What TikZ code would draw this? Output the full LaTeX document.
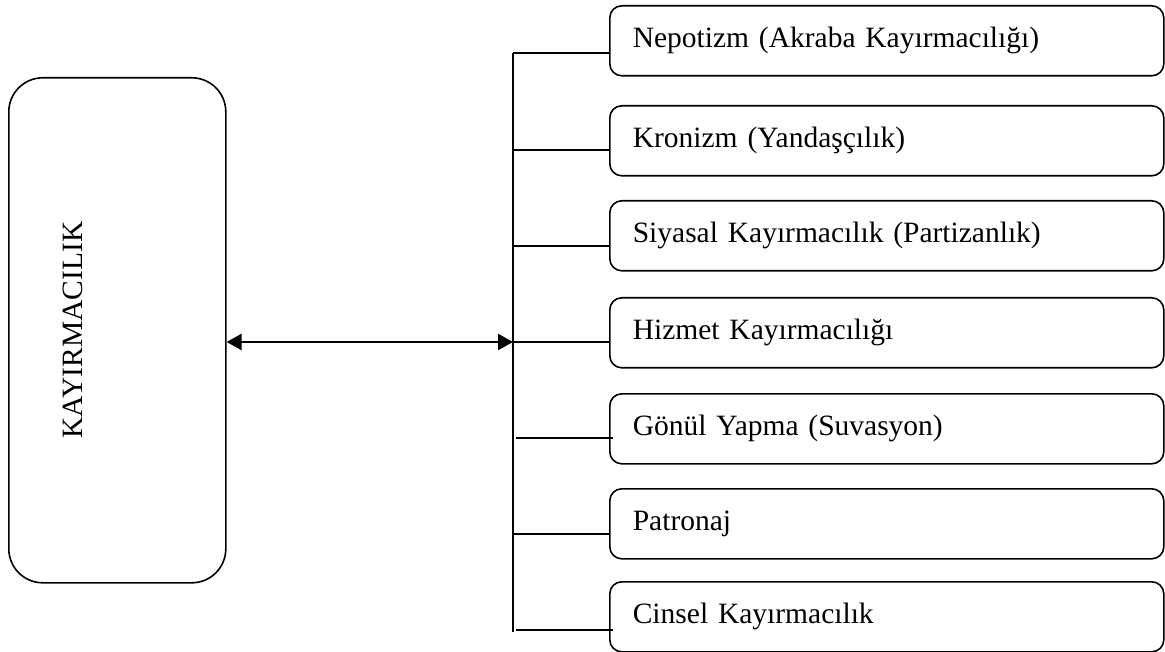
\documentclass[tikz,border=0pt]{standalone}
\usepackage{fontspec}
\setmainfont{Liberation Serif}
\usetikzlibrary{arrows.meta}
\begin{document}
\begin{tikzpicture}[x=1pt,y=-1pt,
  itembox/.style={draw, line width=1.6pt, rounded corners=12pt, anchor=north west,
    minimum width=554pt, minimum height=70pt, inner xsep=23pt, inner ysep=0pt,
    text width=508pt, align=left, font=\fontsize{29.5}{34}\selectfont},
  mainbox/.style={draw, line width=1.6pt, rounded corners=34pt, anchor=north west,
    minimum width=217pt, minimum height=505pt, inner sep=0pt},
  link/.style={line width=1.5pt},
  bus/.style={line width=1.8pt},
  dblarrow/.style={line width=2.4pt, {Triangle[length=15pt,width=16pt]}-{Triangle[length=15pt,width=16pt]}}]
\useasboundingbox (0,0) rectangle (1165,652);
% main box
\node[mainbox] (main) at (8,77) {};
\node[rotate=90, font=\fontsize{29.5}{34}\selectfont] (mainlabel) at (73,330) {KAYIRMACILIK};
% right boxes
\node[itembox] (b1) at (609,5) {Nepotizm (Akraba Kayırmacılığı)};
\node[itembox] (b2) at (609,105) {Kronizm (Yandaşçılık)};
\node[itembox] (b3) at (609,200) {Siyasal Kayırmacılık (Partizanlık)};
\node[itembox] (b4) at (609,297) {Hizmet Kayırmacılığı};
\node[itembox] (b5) at (609,393) {Gönül Yapma (Suvasyon)};
\node[itembox] (b6) at (609,488) {Patronaj};
\node[itembox] (b7) at (609,581) {Cinsel Kayırmacılık};
% bus points
\coordinate (v1) at (513,53);
\coordinate (v2) at (513,150);
\coordinate (v3) at (513,246);
\coordinate (v4) at (513,342);
\coordinate (v5) at (516,438);
\coordinate (v6) at (513,534);
\coordinate (v7) at (516,630);
\coordinate (vend) at (513,632);
\coordinate (e5) at (613,438);
\coordinate (e7) at (613,630);
\draw[bus] (v1) -- (vend);
\draw[link] (v1) -- (v1 -| b1.west);
\draw[link] (v2) -- (v2 -| b2.west);
\draw[link] (v3) -- (v3 -| b3.west);
\draw[link] (v4) -- (v4 -| b4.west);
\draw[link] (v5) -- (e5);
\draw[link] (v6) -- (v6 -| b6.west);
\draw[link] (v7) -- (e7);
% double arrow
\draw[dblarrow] (main.east |- v4) -- (v4);
\end{tikzpicture}
\end{document}
